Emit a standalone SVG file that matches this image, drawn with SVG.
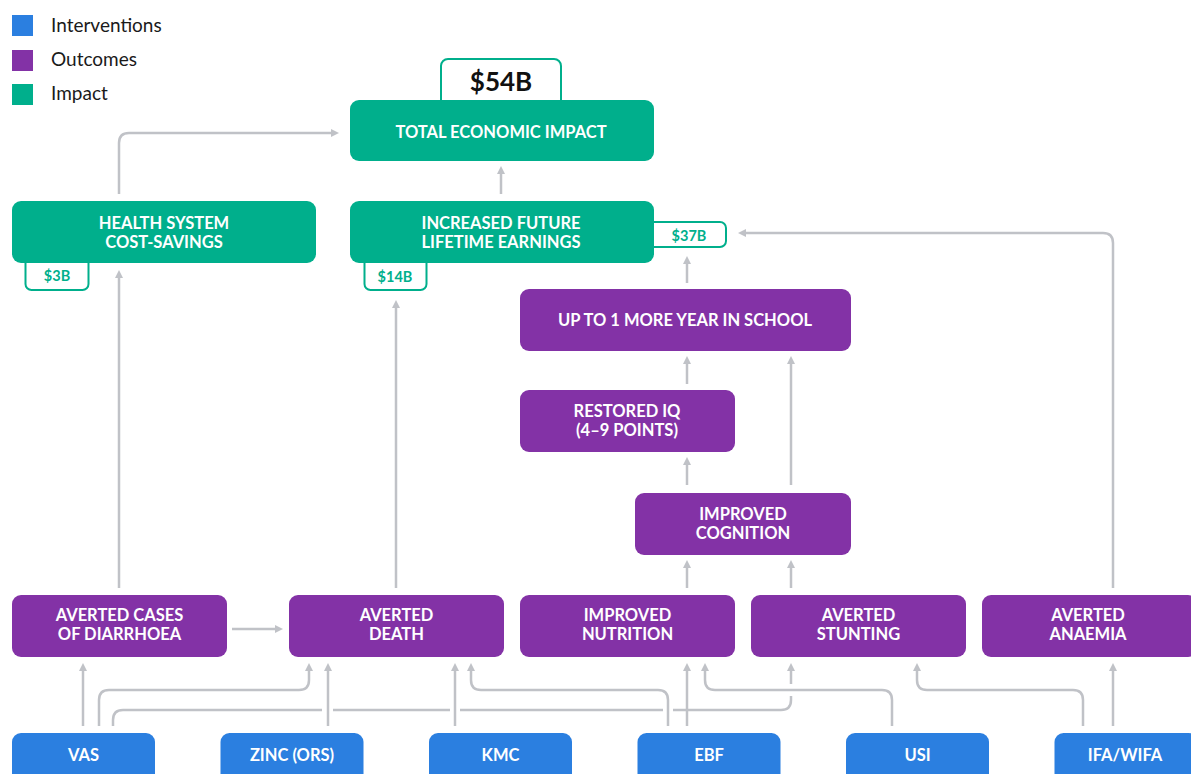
<svg xmlns="http://www.w3.org/2000/svg" width="1191" height="774" viewBox="0 0 1191 774">
<defs>
<style>
.bg{fill:#ffffff}
.int{fill:#2b7fe0}
.out{fill:#8332a6}
.imp{fill:#00af8c}
.tag{fill:#ffffff;stroke:#00af8c;stroke-width:2}
.nt{font-family:Lato,"Noto Sans",sans-serif;font-weight:700;font-size:16.5px;fill:#ffffff;text-anchor:middle}
.tt{font-family:Lato,"Noto Sans",sans-serif;font-weight:700;font-size:14.5px;fill:#00af8c;text-anchor:middle}
.big{font-family:Lato,"Noto Sans",sans-serif;font-weight:700;font-size:26px;fill:#111111;text-anchor:middle}
.lg{font-family:Lato,"Noto Sans",sans-serif;font-weight:400;font-size:19px;fill:#1a1a1a}
.c{fill:none;stroke:#c0c2c7;stroke-width:2.5}
.ca{fill:none;stroke:#c0c2c7;stroke-width:2.5;marker-end:url(#ah)}
</style>
<marker id="ah" viewBox="0 0 8 8" refX="2" refY="4" markerWidth="8" markerHeight="8" markerUnits="userSpaceOnUse" orient="auto">
<path d="M0,0 L8,4 L0,8 z" fill="#c0c2c7"/>
</marker>
</defs>
<rect class="bg" x="0" y="0" width="1191" height="774"/>

<g id="legend">
<rect class="int" x="12" y="15" width="21" height="21"/>
<text class="lg" x="51" y="32">Interventions</text>
<rect class="out" x="12" y="50" width="21" height="21"/>
<text class="lg" x="51" y="66">Outcomes</text>
<rect class="imp" x="12" y="84" width="21" height="21"/>
<text class="lg" x="51" y="100">Impact</text>
</g>

<g id="connectors">
<path class="ca" d="M119,194 V143 Q119,133 129,133 H333"/>
<path class="ca" d="M501,194 V172"/>
<path class="ca" d="M119,588 V276"/>
<path class="ca" d="M396,588 V306"/>
<path class="ca" d="M687,283 V262"/>
<path class="ca" d="M1113,588 V243 Q1113,233 1103,233 H744"/>
<path class="ca" d="M687,384 V362"/>
<path class="ca" d="M791,485 V362"/>
<path class="ca" d="M687,485 V463"/>
<path class="ca" d="M687,588 V566"/>
<path class="ca" d="M791,588 V566"/>
<path class="ca" d="M232,629 H277"/>
<path class="ca" d="M83,726 V669"/>
<path class="ca" d="M99,726 V700 Q99,690 109,690 H299 Q309,690 309,680 V669"/>
<path class="c" d="M113,726 V720 Q113,710 123,710 H322 M333,710 H450 M460,710 H663 M673,710 H781 Q791,710 791,700 V696"/>
<path class="ca" d="M791,684 V669"/>
<path class="ca" d="M328,726 V669"/>
<path class="ca" d="M455,726 V669"/>
<path class="ca" d="M668,726 V700 Q668,690 658,690 H481 Q471,690 471,680 V669"/>
<path class="ca" d="M687,726 V669"/>
<path class="ca" d="M892,726 V700 Q892,690 882,690 H715 Q705,690 705,680 V669"/>
<path class="ca" d="M1083,726 V700 Q1083,690 1073,690 H927 Q917,690 917,680 V669"/>
<path class="ca" d="M1113,726 V669"/>
</g>

<g id="total">
<rect class="tag" x="441" y="59" width="120" height="50" rx="7"/>
<text class="big" x="501" y="91">$54B</text>
<rect class="imp" x="350" y="100" width="304" height="61" rx="9"/>
<text class="nt" x="501" y="138">TOTAL ECONOMIC IMPACT</text>
</g>

<g id="health">
<rect class="tag" x="25.5" y="250" width="63" height="40" rx="6"/>
<text class="tt" x="57" y="281">$3B</text>
<rect class="imp" x="12" y="201" width="304" height="62" rx="9"/>
<text class="nt" x="164" y="229">HEALTH SYSTEM</text>
<text class="nt" x="164" y="248">COST-SAVINGS</text>
</g>

<g id="earnings">
<rect class="tag" x="364.5" y="250" width="62" height="40" rx="6"/>
<text class="tt" x="395" y="282">$14B</text>
<rect class="tag" x="640" y="222" width="86" height="25" rx="6"/>
<text class="tt" x="689" y="241">$37B</text>
<rect class="imp" x="350" y="201" width="304" height="62" rx="9"/>
<text class="nt" x="501" y="229">INCREASED FUTURE</text>
<text class="nt" x="501" y="248">LIFETIME EARNINGS</text>
</g>

<g id="school">
<rect class="out" x="520" y="289" width="331" height="62" rx="9"/>
<text class="nt" x="685" y="326">UP TO 1 MORE YEAR IN SCHOOL</text>
</g>

<g id="iq">
<rect class="out" x="520" y="390" width="215" height="62" rx="9"/>
<text class="nt" x="627" y="417">RESTORED IQ</text>
<text class="nt" x="627" y="436">(4–9 POINTS)</text>
</g>

<g id="cognition">
<rect class="out" x="635" y="493" width="216" height="62" rx="9"/>
<text class="nt" x="743" y="520">IMPROVED</text>
<text class="nt" x="743" y="539">COGNITION</text>
</g>

<g id="diarrhoea">
<rect class="out" x="12" y="595" width="215" height="62" rx="9"/>
<text class="nt" x="119.5" y="621">AVERTED CASES</text>
<text class="nt" x="119.5" y="640">OF DIARRHOEA</text>
</g>

<g id="death">
<rect class="out" x="289" y="595" width="215" height="62" rx="9"/>
<text class="nt" x="396.5" y="621">AVERTED</text>
<text class="nt" x="396.5" y="640">DEATH</text>
</g>

<g id="nutrition">
<rect class="out" x="520" y="595" width="215" height="62" rx="9"/>
<text class="nt" x="627.5" y="621">IMPROVED</text>
<text class="nt" x="627.5" y="640">NUTRITION</text>
</g>

<g id="stunting">
<rect class="out" x="751" y="595" width="215" height="62" rx="9"/>
<text class="nt" x="858.5" y="621">AVERTED</text>
<text class="nt" x="858.5" y="640">STUNTING</text>
</g>

<g id="anaemia">
<rect class="out" x="982" y="595" width="215" height="62" rx="9"/>
<text class="nt" x="1088" y="621">AVERTED</text>
<text class="nt" x="1088" y="640">ANAEMIA</text>
</g>

<g id="vas">
<rect class="int" x="12" y="733" width="143" height="62" rx="9"/>
<text class="nt" x="83.5" y="761">VAS</text>
</g>
<g id="zinc">
<rect class="int" x="220.5" y="733" width="143" height="62" rx="9"/>
<text class="nt" x="292" y="761">ZINC (ORS)</text>
</g>
<g id="kmc">
<rect class="int" x="429" y="733" width="143" height="62" rx="9"/>
<text class="nt" x="500.5" y="761">KMC</text>
</g>
<g id="ebf">
<rect class="int" x="637.5" y="733" width="143" height="62" rx="9"/>
<text class="nt" x="709" y="761">EBF</text>
</g>
<g id="usi">
<rect class="int" x="846" y="733" width="143" height="62" rx="9"/>
<text class="nt" x="917.5" y="761">USI</text>
</g>
<g id="ifa">
<rect class="int" x="1054.5" y="733" width="143" height="62" rx="9"/>
<text class="nt" x="1125" y="761">IFA/WIFA</text>
</g>
</svg>
